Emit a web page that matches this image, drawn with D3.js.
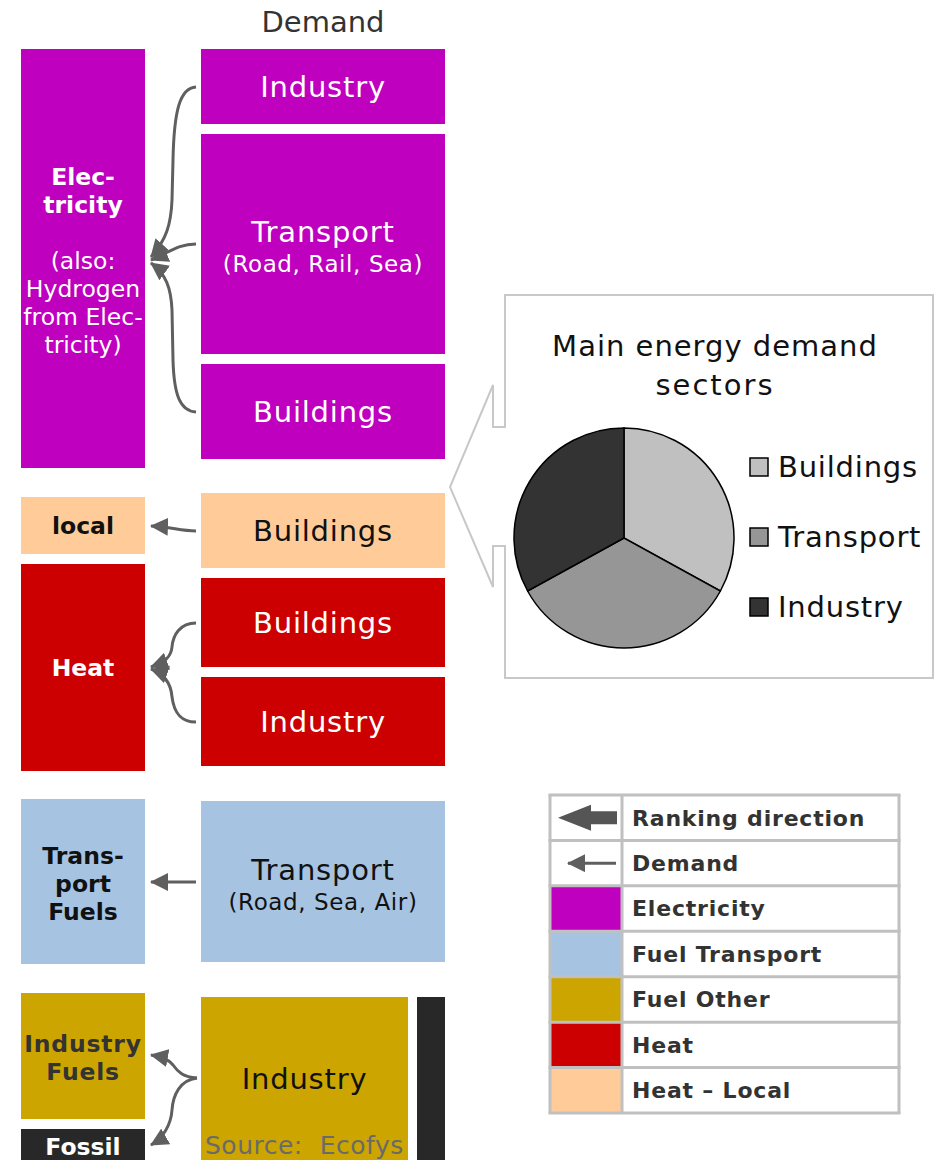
<!DOCTYPE html>
<html>
<head>
<meta charset="utf-8">
<script src="https://cdn.jsdelivr.net/npm/d3@7"></script>
<style>
  html, body { margin: 0; padding: 0; background: #fff; }
  svg { display: block; font-family: "DejaVu Sans", Verdana, sans-serif; }
</style>
</head>
<body>
<div id="chart"></div>
<script>
// Supply side (left column) - spans are diagram units along the vertical axis
const supplyNames = ['Electricity', 'Heat – Local', 'Heat', 'Fuel Transport', 'Fuel Other', 'Fossil'];
const supplyLabels = [
    ['Elec-', 'tricity', '', '(also:', 'Hydrogen', 'from Elec-', 'tricity)'],
    ['local'],
    ['Heat'],
    ['Trans-', 'port', 'Fuels'],
    ['Industry', 'Fuels'],
    ['Fossil']
];
const supplyBoldLines = [2, 1, 1, 3, 2, 1];
const supplySpans = [[0, 419], [448, 505], [515, 722], [750, 915], [944, 1070], [1080, 1125]];

// Demand side (right column)
const demandNames = ['Industry', 'Transport', 'Buildings', 'Buildings', 'Buildings', 'Industry', 'Transport', 'Industry', ''];
const demandSubLabels = ['', '(Road, Rail, Sea)', '', '', '', '', '(Road, Sea, Air)', '', ''];
const demandCarrier = ['Electricity', 'Electricity', 'Electricity', 'Heat – Local', 'Heat', 'Heat', 'Fuel Transport', 'Fuel Other', 'Fossil'];
const demandSpans = [[0, 75], [85, 305], [315, 410], [444, 519], [529, 618], [628, 717], [752, 913], [948, 1125], [948, 1125]];

// Pie: main energy demand sectors
const pieLabels = ['Buildings', 'Transport', 'Industry'];
const pieValues = [33, 34, 33];
const pieColors = ['#c0c0c0', '#969696', '#333333'];

// Legend table
const legendLabels = ['Ranking direction', 'Demand', 'Electricity', 'Fuel Transport', 'Fuel Other', 'Heat', 'Heat – Local'];
const legendSwatch = [null, null, 'Electricity', 'Fuel Transport', 'Fuel Other', 'Heat', 'Heat – Local'];

const carrierColor = d3.scaleOrdinal()
    .domain(['Electricity', 'Heat – Local', 'Heat', 'Fuel Transport', 'Fuel Other', 'Fossil'])
    .range(['#bf00bf', '#ffcc99', '#cc0000', '#a6c4e2', '#cca500', '#282828']);
const carrierText = d3.scaleOrdinal()
    .domain(['Electricity', 'Heat – Local', 'Heat', 'Fuel Transport', 'Fuel Other', 'Fossil'])
    .range(['#ffffff', '#111111', '#ffffff', '#111111', '#333333', '#ffffff']);

const width = 944, height = 1160;
const arrowColor = '#5f5f5f';

const svg = d3.select('#chart').append('svg')
    .attr('width', width)
    .attr('height', height);

const y = d3.scaleLinear().domain([0, 1111]).range([49, 1160]);

// arrow head marker
svg.append('defs').append('marker')
    .attr('id', 'head')
    .attr('markerUnits', 'userSpaceOnUse')
    .attr('viewBox', '0 0 18 18')
    .attr('markerWidth', 18)
    .attr('markerHeight', 18)
    .attr('refX', 17)
    .attr('refY', 9)
    .attr('orient', 'auto')
    .append('path')
    .attr('d', 'M0,0 L18,9 L0,18 Z')
    .attr('fill', arrowColor);

// Title
svg.append('text')
    .attr('x', 323).attr('y', 22).attr('dy', '0.36em')
    .attr('text-anchor', 'middle')
    .style('font-size', '29px')
    .style('fill', '#333')
    .text('Demand');

// Supply boxes
const supply = svg.selectAll('.supply')
    .data(supplyNames.map((name, i) => ({ name, lines: supplyLabels[i], bold: supplyBoldLines[i], span: supplySpans[i] })))
    .enter().append('g')
    .attr('class', 'supply');

supply.append('rect')
    .attr('x', 21).attr('width', 124)
    .attr('y', d => y(d.span[0]))
    .attr('height', d => y(d.span[1]) - y(d.span[0]))
    .attr('fill', d => carrierColor(d.name));

supply.each(function (d) {
    const g = d3.select(this);
    const lh = 28;
    const bottom = Math.min(y(d.span[1]), 1164);
    const cy = (y(d.span[0]) + bottom) / 2 + (d.lines.length > 1 ? 2 : 0);
    const top = cy - (d.lines.length - 1) * lh / 2;
    d.lines.forEach((line, j) => {
        g.append('text')
            .attr('x', 83)
            .attr('y', top + j * lh)
            .attr('dy', '0.36em')
            .attr('text-anchor', 'middle')
            .style('font-size', '23.5px')
            .style('letter-spacing', d.name === 'Fuel Other' ? '0.8px' : '0px')
            .style('font-weight', j < d.bold ? 'bold' : 'normal')
            .style('fill', carrierText(d.name))
            .text(line);
    });
});

// Demand boxes
const demand = svg.selectAll('.demand')
    .data(demandNames.map((name, i) => ({ name, sub: demandSubLabels[i], carrier: demandCarrier[i], span: demandSpans[i] })))
    .enter().append('g')
    .attr('class', 'demand');

const boxX = d => d.carrier === 'Fossil' ? 417 : 201;
const boxW = d => d.carrier === 'Fossil' ? 28 : (d.carrier === 'Fuel Other' ? 207 : 244);

demand.append('rect')
    .attr('x', boxX)
    .attr('width', boxW)
    .attr('y', d => y(d.span[0]))
    .attr('height', d => y(d.span[1]) - y(d.span[0]))
    .attr('fill', d => carrierColor(d.carrier));

demand.filter(d => d.name).append('text')
    .attr('x', d => boxX(d) + boxW(d) / 2)
    .attr('y', d => {
        const top = y(d.span[0]);
        const bottom = d.carrier === 'Fuel Other' ? 1160 : y(d.span[1]);
        return (top + bottom) / 2 + (d.sub ? -12 : 0);
    })
    .attr('dy', '0.36em')
    .attr('text-anchor', 'middle')
    .style('font-size', '29px')
    .style('letter-spacing', '0.8px')
    .style('fill', d => d.carrier === 'Fuel Other' ? '#111' : carrierText(d.carrier))
    .text(d => d.name);

demand.filter(d => d.sub).append('text')
    .attr('x', d => boxX(d) + boxW(d) / 2)
    .attr('y', d => (y(d.span[0]) + y(d.span[1])) / 2 + 20)
    .attr('dy', '0.36em')
    .attr('text-anchor', 'middle')
    .style('font-size', '23px')
    .style('letter-spacing', '0.6px')
    .style('fill', d => carrierText(d.carrier))
    .text(d => d.sub);

svg.append('text')
    .attr('x', 205).attr('y', 1154)
    .style('font-size', '25px')
    .style('letter-spacing', '0.5px')
    .style('fill', '#6a6a6a')
    .style('white-space', 'pre')
    .text('Source:  Ecofys');

// Demand arrows (braces)
const arrowPaths = [
    'M196,87 C180,88 174,110 173,160 L172,200 C171,225 166,240 151,257',
    'M196,244 C178,244 170,252 151,260',
    'M196,412 C180,411 174,395 173,360 L172,310 C171,288 166,274 151,263',
    'M196,531 C180,531 172,527 151,526',
    'M196,623 C180,623 173,635 172,647 C171,657 165,662 151,667',
    'M196,722 C180,722 174,712 172,697 C171,684 165,674 151,669',
    'M196,882 L151,882',
    'M197,1078 C183,1077 178,1072 173,1065 C168,1059 162,1057 151,1055',
    'M197,1078 C180,1080 173,1095 172,1110 C171,1125 163,1138 151,1145'
];
svg.selectAll('.flow')
    .data(arrowPaths)
    .enter().append('path')
    .attr('class', 'flow')
    .attr('d', d => d)
    .attr('fill', 'none')
    .attr('stroke', arrowColor)
    .attr('stroke-width', 3)
    .attr('marker-end', 'url(#head)');

// Callout with pie
svg.append('path')
    .attr('d', 'M505,295 L933,295 L933,678 L505,678 L505,546 L493,546 L493,587 L450,487 L493,385 L493,427 L505,427 Z')
    .attr('fill', '#fff')
    .attr('stroke', '#c8c8c8')
    .attr('stroke-width', 2);

svg.append('text')
    .attr('x', 715).attr('y', 346).attr('dy', '0.36em')
    .attr('text-anchor', 'middle')
    .style('font-size', '29px').style('fill', '#111')
    .style('letter-spacing', '1px')
    .text('Main energy demand');
svg.append('text')
    .attr('x', 715).attr('y', 385).attr('dy', '0.36em')
    .attr('text-anchor', 'middle')
    .style('font-size', '29px').style('fill', '#111')
    .style('letter-spacing', '2px')
    .text('sectors');

const pie = d3.pie().sort(null).value(d => d.value);
const arc = d3.arc().innerRadius(0).outerRadius(110);
const pieData = pieLabels.map((label, i) => ({ label, value: pieValues[i], color: pieColors[i] }));

svg.append('g')
    .attr('transform', 'translate(624,538)')
    .selectAll('path')
    .data(pie(pieData))
    .enter().append('path')
    .attr('d', arc)
    .attr('fill', d => d.data.color)
    .attr('stroke', '#000')
    .attr('stroke-width', 1.5);

const pieLegend = svg.selectAll('.pie-legend')
    .data(pieData)
    .enter().append('g')
    .attr('class', 'pie-legend')
    .attr('transform', (d, i) => `translate(750, ${467 + i * 70})`);

pieLegend.append('rect')
    .attr('x', 0).attr('y', -9)
    .attr('width', 18).attr('height', 18)
    .attr('fill', d => d.color)
    .attr('stroke', '#000')
    .attr('stroke-width', 1.5);

pieLegend.append('text')
    .attr('x', 28).attr('dy', '0.36em')
    .style('font-size', '29px').style('fill', '#111')
    .style('letter-spacing', '0.8px')
    .text(d => d.label);

// Legend table
const ly = d3.scaleBand().domain(legendLabels).range([795, 1113]);
const lx0 = 550, lx1 = 622, lx2 = 899;

const rows = svg.selectAll('.legend-row')
    .data(legendLabels.map((label, i) => ({ label, swatch: legendSwatch[i] })))
    .enter().append('g')
    .attr('class', 'legend-row');

rows.filter(d => d.swatch).append('rect')
    .attr('x', lx0).attr('width', lx1 - lx0)
    .attr('y', d => ly(d.label))
    .attr('height', ly.bandwidth())
    .attr('fill', d => carrierColor(d.swatch));

rows.append('text')
    .attr('x', 632)
    .attr('y', d => ly(d.label) + ly.bandwidth() / 2)
    .attr('dy', '0.36em')
    .style('font-size', '22px')
    .style('letter-spacing', '0.8px')
    .style('font-weight', 'bold')
    .style('fill', '#333')
    .text(d => d.label);

const grid = svg.append('g')
    .attr('stroke', '#c0c0c0')
    .attr('stroke-width', 3)
    .attr('fill', 'none');
grid.selectAll('line.h')
    .data(legendLabels.map(l => ly(l)).concat([1113]))
    .enter().append('line')
    .attr('x1', lx0 - 1.5).attr('x2', lx2 + 1.5)
    .attr('y1', d => d).attr('y2', d => d);
grid.selectAll('line.v')
    .data([lx0, lx1, lx2])
    .enter().append('line')
    .attr('x1', d => d).attr('x2', d => d)
    .attr('y1', 795).attr('y2', 1113);

// legend arrows
const rc = ly('Ranking direction') + ly.bandwidth() / 2;
svg.append('path')
    .attr('d', `M558,${rc} L591,${rc - 13} L591,${rc - 6.5} L617,${rc - 6.5} L617,${rc + 6.5} L591,${rc + 6.5} L591,${rc + 13} Z`)
    .attr('fill', '#555');

const dc = ly('Demand') + ly.bandwidth() / 2;
svg.append('path')
    .attr('d', `M616,${dc} L568,${dc}`)
    .attr('stroke', arrowColor)
    .attr('stroke-width', 3)
    .attr('marker-end', 'url(#head)');
</script>
</body>
</html>
